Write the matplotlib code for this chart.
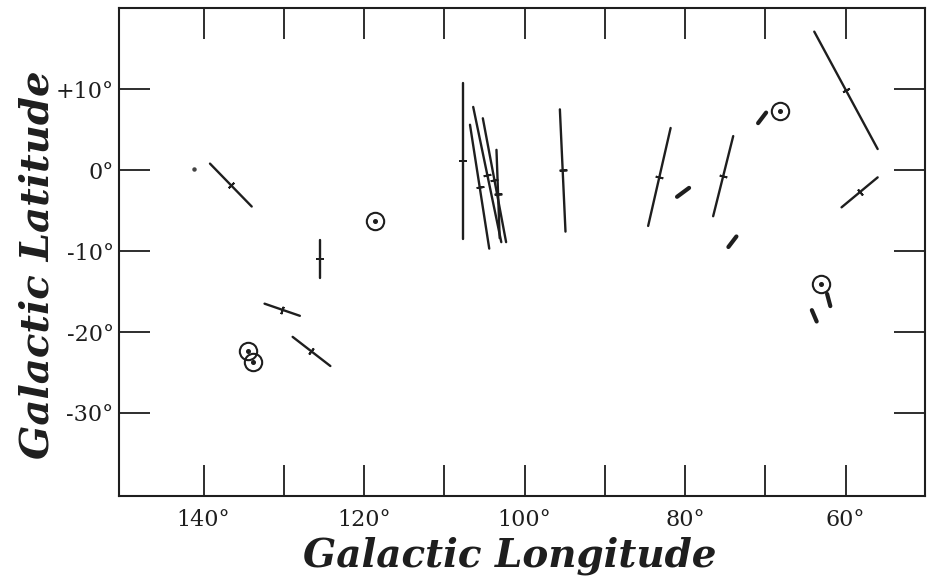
"""Galactic polarization vectors: longitude vs latitude map, scanned-figure style."""
import matplotlib
matplotlib.use("Agg")
import matplotlib.pyplot as plt
import numpy as np
from matplotlib.ticker import FixedLocator, FuncFormatter

# Long vectors with a centre tick: (lon1, lat1) -> (lon2, lat2), degrees.
vec_lon1 = [139.2, 125.5, 132.4, 128.9, 107.7, 106.8, 106.4, 105.2, 103.5,
            95.6, 81.8, 74.0, 63.9, 60.5]
vec_lat1 = [0.8, -8.6, -16.5, -20.6, 10.7, 5.6, 7.8, 6.4, 2.5,
            7.5, 5.2, 4.2, 17.1, -4.6]
vec_lon2 = [134.0, 125.5, 128.0, 124.2, 107.7, 104.4, 102.9, 102.3, 103.1,
            94.9, 84.6, 76.5, 56.0, 56.0]
vec_lat2 = [-4.5, -13.3, -18.0, -24.2, -8.5, -9.7, -8.9, -8.9, -8.4,
            -7.6, -6.9, -5.7, 2.6, -0.9]

# Short, heavy dashes (no centre tick).
dash_lon1 = [81.0, 74.6, 70.9, 62.3, 64.2]
dash_lat1 = [-3.3, -9.5, 5.8, -15.3, -17.3]
dash_lon2 = [79.5, 73.6, 69.9, 61.9, 63.6]
dash_lat2 = [-2.2, -8.2, 7.1, -16.8, -18.7]

# Circle-with-dot symbols.
ring_lon = [118.6, 68.2, 63.1, 134.4, 133.9]
ring_lat = [-6.3, 7.3, -14.1, -22.4, -23.7]

# Stray small point.
dot_lon = [141.2]
dot_lat = [0.1]

x_ticks = [140, 130, 120, 110, 100, 90, 80, 70, 60]
x_labeled = [140, 120, 100, 80, 60]
y_ticks = [10, 0, -10, -20, -30]
y_labels = {10: "+10°", 0: "0°", -10: "-10°", -20: "-20°", -30: "-30°"}

INK = "#1e1e1e"
SERIF = ["DejaVu Serif"]

fig = plt.figure(figsize=(9.32, 5.83), dpi=100)
ax = fig.add_axes([0.128, 0.150, 0.8645, 0.836])
ax.set_xlim(150.5, 50.1)
ax.set_ylim(-40.2, 20.0)

for lo1, la1, lo2, la2 in zip(vec_lon1, vec_lat1, vec_lon2, vec_lat2):
    ax.plot([lo1, lo2], [la1, la2], color=INK, lw=1.7, solid_capstyle="round")

# centre ticks perpendicular to each vector (angle taken in display space)
fig.canvas.draw()
for lo1, la1, lo2, la2 in zip(vec_lon1, vec_lat1, vec_lon2, vec_lat2):
    p1 = ax.transData.transform((lo1, la1))
    p2 = ax.transData.transform((lo2, la2))
    ang = np.degrees(np.arctan2(p2[1] - p1[1], p2[0] - p1[0]))
    ax.plot([(lo1 + lo2) / 2], [(la1 + la2) / 2], linestyle="none",
            marker=(2, 2, ang), markersize=5.5, markeredgewidth=1.4,
            color=INK)

for lo1, la1, lo2, la2 in zip(dash_lon1, dash_lat1, dash_lon2, dash_lat2):
    ax.plot([lo1, lo2], [la1, la2], color=INK, lw=3.0, solid_capstyle="round")

ax.plot(ring_lon, ring_lat, linestyle="none", marker="o", markersize=12.5,
        markerfacecolor="none", markeredgecolor=INK, markeredgewidth=1.5)
ax.plot(ring_lon, ring_lat, linestyle="none", marker="o", markersize=2.6,
        color=INK)
ax.plot(dot_lon, dot_lat, linestyle="none", marker="o", markersize=2.2,
        color="#444444")

for s in ax.spines.values():
    s.set_linewidth(1.5)
    s.set_color(INK)

ax.xaxis.set_major_locator(FixedLocator(x_ticks))
ax.yaxis.set_major_locator(FixedLocator(y_ticks))
ax.xaxis.set_major_formatter(FuncFormatter(
    lambda v, _: f"{int(round(v))}°" if int(round(v)) in x_labeled else ""))
ax.yaxis.set_major_formatter(FuncFormatter(
    lambda v, _: y_labels.get(int(round(v)), "")))
ax.tick_params(which="major", direction="in", length=22, width=1.3,
               color=INK, top=True, right=True, labelsize=16)
ax.tick_params(axis="x", pad=10)
ax.tick_params(axis="y", pad=4)
for lab in ax.get_xticklabels() + ax.get_yticklabels():
    lab.set_family(SERIF)
    lab.set_color(INK)

ax.set_xlabel("Galactic Longitude", family=SERIF, style="italic",
              weight="bold", fontsize=28, color=INK)
ax.set_ylabel("Galactic Latitude", family=SERIF, style="italic",
              weight="bold", fontsize=29, color=INK)
ax.xaxis.set_label_coords(0.485, -0.085)
ax.yaxis.set_label_coords(-0.078, 0.474)

fig.savefig("out.png", dpi=100)
plt.close(fig)
